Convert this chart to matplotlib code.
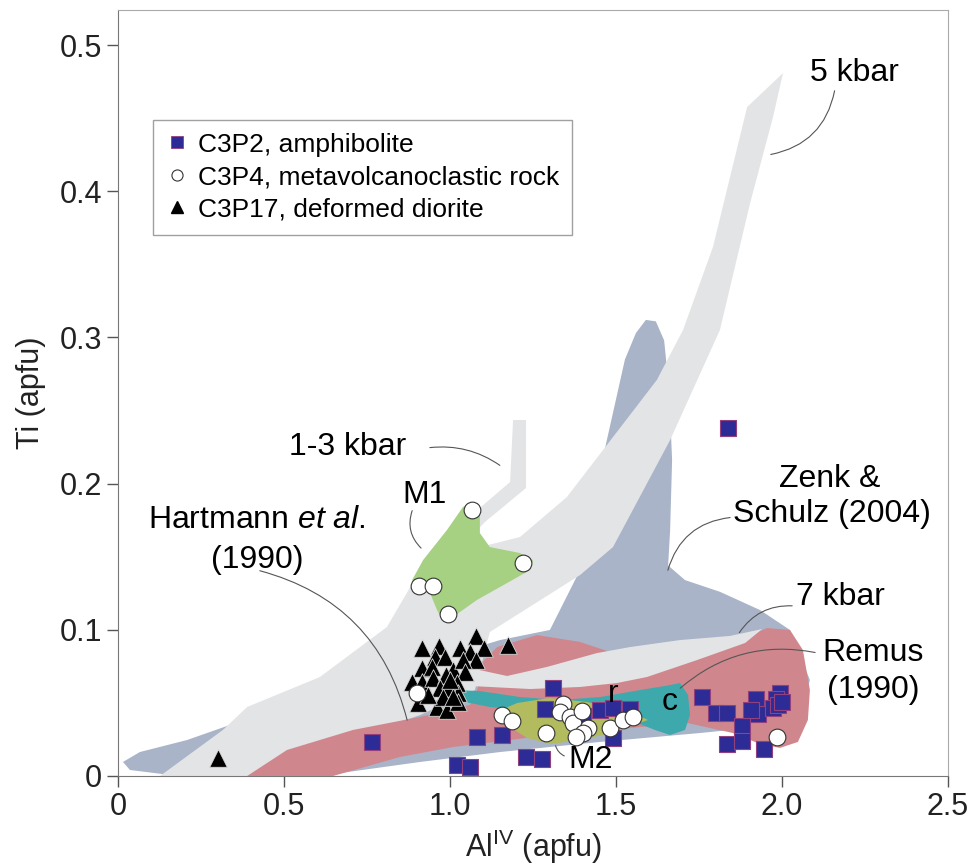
import matplotlib
matplotlib.use('Agg')
import matplotlib.pyplot as plt
from matplotlib.patches import Polygon
from matplotlib.lines import Line2D

plt.rcParams['font.family'] = ['Liberation Sans', 'DejaVu Sans']
plt.rcParams['mathtext.fontset'] = 'custom'
plt.rcParams['mathtext.rm'] = 'Liberation Sans'
plt.rcParams['mathtext.it'] = 'Liberation Sans:italic'

# ---- fields (AlIV, Ti) outlines ----
zenk_x = [0.015, 0.066, 0.208, 0.337, 0.548, 1.151, 1.301, 1.392, 1.452, 1.527, 1.560, 1.590, 1.620, 1.645, 1.660, 1.669,
          1.663, 1.657, 1.708, 1.813, 1.934, 2.024, 2.084, 2.054, 1.934, 1.753, 1.452, 1.151, 0.910, 0.669, 0.157, 0.036]
zenk_y = [0.0096, 0.0164, 0.0246, 0.0349, 0.052, 0.093, 0.0999, 0.141, 0.209, 0.285, 0.303, 0.312, 0.311, 0.298, 0.264, 0.216,
          0.168, 0.144, 0.134, 0.126, 0.1135, 0.0999, 0.0657, 0.0383, 0.0335, 0.0294, 0.0233, 0.0164, 0.0096, 0.002, 0.0007, 0.0041]

hart_x = [0.1265, 0.316, 0.389, 0.608, 0.729, 0.810, 0.870, 0.910, 1.030, 1.181, 1.190, 1.229, 1.229, 1.105, 1.054,
          1.090, 1.211, 1.352, 1.461, 1.623, 1.702, 1.792, 1.895, 2.003, 1.973, 1.904, 1.813, 1.663, 1.491, 1.392,
          1.120, 1.075, 0.910, 0.639, 0.428]
hart_y = [0.0, 0.0315, 0.0472, 0.0677, 0.0882, 0.1019, 0.1252, 0.1409, 0.1717, 0.2011, 0.2435, 0.2435, 0.197, 0.1737, 0.1614,
          0.1566, 0.1635, 0.1908, 0.223, 0.2709, 0.3051, 0.3618, 0.4576, 0.4808, 0.4508, 0.3919, 0.3051, 0.2298, 0.1566, 0.1375,
          0.0985, 0.0588, 0.0417, 0.0212, 0.0]

kbar7_x = [1.060, 1.172, 1.292, 1.443, 1.542, 1.693, 1.843, 1.940, 1.889, 1.744, 1.593, 1.503, 1.392, 1.241, 1.060]
kbar7_y = [0.0739, 0.0684, 0.0746, 0.0841, 0.0882, 0.093, 0.0958, 0.1005, 0.091, 0.0793, 0.0677, 0.0636, 0.0609, 0.0595, 0.0616]

remus_x = [0.389, 0.509, 0.708, 0.910, 1.060, 1.084, 1.090, 1.142, 1.262, 1.392, 1.482, 1.602, 1.753, 1.873, 1.955, 2.024,
           2.063, 2.084, 2.078, 2.048, 1.994, 1.934, 1.852, 1.714, 1.301, 1.009, 0.849, 0.648]
remus_y = [0.0, 0.0178, 0.0315, 0.0404, 0.0486, 0.0602, 0.0759, 0.0882, 0.0964, 0.0917, 0.0848, 0.078, 0.0828, 0.093, 0.1012, 0.0999,
           0.0862, 0.0588, 0.0383, 0.0233, 0.0192, 0.0219, 0.0294, 0.0363, 0.028, 0.0198, 0.013, 0.0]

cr_x = [1.015, 1.090, 1.211, 1.331, 1.452, 1.572, 1.648, 1.693, 1.717, 1.723, 1.708, 1.663, 1.617, 1.557, 1.452, 1.331, 1.211, 1.120, 1.045]
cr_y = [0.0588, 0.0581, 0.054, 0.052, 0.054, 0.0588, 0.0616, 0.0636, 0.0554, 0.0417, 0.0315, 0.028, 0.0315, 0.0369, 0.0397, 0.0424, 0.0451, 0.0472, 0.0506]

m2_x = [1.142, 1.202, 1.301, 1.413, 1.533, 1.596, 1.503, 1.401, 1.301, 1.232, 1.181]
m2_y = [0.044, 0.0499, 0.0534, 0.0506, 0.0451, 0.0383, 0.0308, 0.0246, 0.0219, 0.026, 0.0335]

m1_x = [1.060, 1.090, 1.090, 1.120, 1.211, 1.250, 1.241, 1.172, 1.081, 1.009, 0.979, 0.961, 0.940, 0.901, 0.886, 0.919, 0.991, 1.039]
m1_y = [0.1867, 0.1819, 0.1662, 0.1566, 0.1525, 0.1477, 0.1409, 0.132, 0.1204, 0.1088, 0.106, 0.1135, 0.1252, 0.1272, 0.1341, 0.1477, 0.1683, 0.184]

# ---- samples ----
c3p2_al = [0.765, 1.081, 1.157, 1.021, 1.060, 1.310, 1.286, 1.229, 1.277, 1.401, 1.452, 1.491, 1.542, 1.491, 1.759,
           1.801, 1.834, 1.880, 1.834, 1.880, 1.946, 1.922, 1.928, 1.907, 1.994, 1.982, 1.973, 1.988, 2.000, 1.837]
c3p2_ti = [0.0233, 0.0267, 0.028, 0.0075, 0.0062, 0.0602, 0.0458, 0.013, 0.0116, 0.041, 0.0451, 0.0465, 0.0458, 0.026, 0.054,
           0.0431, 0.0431, 0.0342, 0.0219, 0.0239, 0.0185, 0.0527, 0.0424, 0.0451, 0.0568, 0.0527, 0.0465, 0.0486, 0.0506, 0.238]

c3p4_al = [1.066, 1.220, 0.907, 0.949, 0.994, 0.901, 1.157, 1.187, 1.289, 1.340, 1.331, 1.361, 1.370, 1.398, 1.416,
           1.401, 1.380, 1.482, 1.521, 1.551, 1.985]
c3p4_ti = [0.182, 0.146, 0.130, 0.130, 0.111, 0.0568, 0.0417, 0.0376, 0.0294, 0.0492, 0.0438, 0.0404, 0.0363, 0.0445, 0.0328,
           0.0294, 0.0267, 0.0328, 0.0383, 0.0404, 0.0267]

c3p17_al = [1.078, 0.916, 0.967, 1.030, 1.102, 1.175, 1.060, 1.078, 0.955, 0.985, 0.916, 0.946, 1.009, 1.039, 1.045, 0.886,
            0.916, 0.949, 0.988, 1.021, 0.970, 0.994, 1.024, 0.904, 0.961, 0.991, 1.024, 0.979, 1.009, 0.934, 1.000, 0.301]
c3p17_ti = [0.0958, 0.0876, 0.0889, 0.0876, 0.0876, 0.0896, 0.0848, 0.0793, 0.0814, 0.0814, 0.0739, 0.0746, 0.0725, 0.0793, 0.0711, 0.0643,
            0.0643, 0.067, 0.0691, 0.0636, 0.0602, 0.0602, 0.0568, 0.0499, 0.0472, 0.0451, 0.0506, 0.054, 0.054, 0.0554, 0.0657, 0.0123]

xticks = [0, 0.5, 1.0, 1.5, 2.0, 2.5]
xtick_labels = ['0', '0.5', '1.0', '1.5', '2.0', '2.5']
yticks = [0, 0.1, 0.2, 0.3, 0.4, 0.5]
ytick_labels = ['0', '0.1', '0.2', '0.3', '0.4', '0.5']

fig = plt.figure(figsize=(9.72, 8.68), dpi=100)
ax = fig.add_axes([0.1214, 0.106, 0.8539, 0.8825])

def field(xs, ys, color, z):
    ax.add_patch(Polygon(list(zip(xs, ys)), closed=True, facecolor=color, edgecolor='none', zorder=z))

field(zenk_x, zenk_y, '#a9b4c8', 1)
field(hart_x, hart_y, '#e3e4e6', 2)
field(remus_x, remus_y, '#cf878d', 3)
field(kbar7_x, kbar7_y, '#e3e4e6', 4)
field(cr_x, cr_y, '#3ea9ad', 5)
field(m2_x, m2_y, '#b3bb5f', 6)
field(m1_x, m1_y, '#a6d082', 6)

ax.scatter(c3p2_al, c3p2_ti, marker='s', s=145, c='#2d2b95', edgecolors='#93407f', linewidths=0.8, zorder=8)
ax.scatter(c3p17_al, c3p17_ti, marker='^', s=160, c='black', edgecolors='#d8d8d8', linewidths=0.6, zorder=9)
ax.scatter(c3p4_al, c3p4_ti, marker='o', s=145, c='white', edgecolors='#333333', linewidths=0.8, zorder=10)

# labels + leader lines
lc = dict(arrowstyle='-', color='#555555', lw=0.8)
def lead(p0, p1, rad):
    ax.annotate('', xy=p1, xytext=p0, arrowprops=dict(connectionstyle=f'arc3,rad={rad}', **lc), zorder=7)

fs = 23
ax.text(2.217, 0.481, '5 kbar', fontsize=fs, ha='center', va='center', zorder=11)
lead((2.160, 0.4706), (1.958, 0.4248), -0.35)
ax.text(0.693, 0.225, '1-3 kbar', fontsize=fs, ha='center', va='center', zorder=11)
lead((0.931, 0.2244), (1.157, 0.2114), -0.2)
ax.text(0.922, 0.192, 'M1', fontsize=fs, ha='center', va='center', zorder=11)
lead((0.889, 0.1833), (0.919, 0.1546), 0.35)
ax.text(0.418, 0.175, r'Hartmann $\mathit{et\ al.}$', fontsize=fs, ha='center', va='center', zorder=11)
ax.text(0.418, 0.148, '(1990)', fontsize=fs, ha='center', va='center', zorder=11)
lead((0.419, 0.1409), (0.873, 0.0363), -0.3)
ax.text(2.145, 0.2035, 'Zenk &', fontsize=fs, ha='center', va='center', zorder=11)
ax.text(2.15, 0.1795, 'Schulz (2004)', fontsize=fs, ha='center', va='center', zorder=11)
lead((1.852, 0.177), (1.654, 0.1389), 0.35)
ax.text(2.175, 0.1224, '7 kbar', fontsize=fs, ha='center', va='center', zorder=11)
lead((2.039, 0.1163), (1.867, 0.0965), 0.3)
ax.text(2.274, 0.0841, 'Remus', fontsize=fs, ha='center', va='center', zorder=11)
ax.text(2.274, 0.0588, '(1990)', fontsize=fs, ha='center', va='center', zorder=11)
lead((2.108, 0.0841), (1.687, 0.0588), 0.25)
ax.text(1.663, 0.0506, 'c', fontsize=fs, ha='center', va='center', zorder=11)
ax.text(1.491, 0.056, 'r', fontsize=fs, ha='center', va='center', zorder=11)
ax.text(1.425, 0.011, 'M2', fontsize=fs, ha='center', va='center', zorder=11)
lead((1.352, 0.013), (1.316, 0.0226), -0.3)

ax.set_xlim(0, 2.5)
ax.set_ylim(0, 0.524)
ax.set_xticks(xticks)
ax.set_xticklabels(xtick_labels)
ax.set_yticks(yticks)
ax.set_yticklabels(ytick_labels)
ax.tick_params(direction='out', length=8, width=1, colors='#555555', labelcolor='#222222', labelsize=22)
for s in ['left', 'bottom']:
    ax.spines[s].set_color('#777777')
for s in ['top', 'right']:
    ax.spines[s].set_color('#aaaaaa')
ax.set_xlabel(r'Al$^{\mathregular{IV}}$ (apfu)', fontsize=22, color='#222222', labelpad=4)
ax.set_ylabel('Ti (apfu)', fontsize=22, color='#222222', labelpad=10)

handles = [
    Line2D([], [], ls='none', marker='s', ms=8, mfc='#2d2b95', mec='#93407f', mew=0.6),
    Line2D([], [], ls='none', marker='o', ms=8, mfc='white', mec='#333333', mew=0.8),
    Line2D([], [], ls='none', marker='^', ms=8, mfc='black', mec='black'),
]
names = ['C3P2, amphibolite', 'C3P4, metavolcanoclastic rock', 'C3P17, deformed diorite']
leg = ax.legend(handles, names, loc='upper left', bbox_to_anchor=(0.042, 0.857), fontsize=19, frameon=True,
                fancybox=False, edgecolor='#888888', handlelength=0.8, handletextpad=0.4, borderpad=0.5,
                labelspacing=0.32, borderaxespad=0)
leg.get_frame().set_linewidth(1.0)
leg.set_zorder(12)

fig.savefig('out.png', dpi=100, facecolor='white')
